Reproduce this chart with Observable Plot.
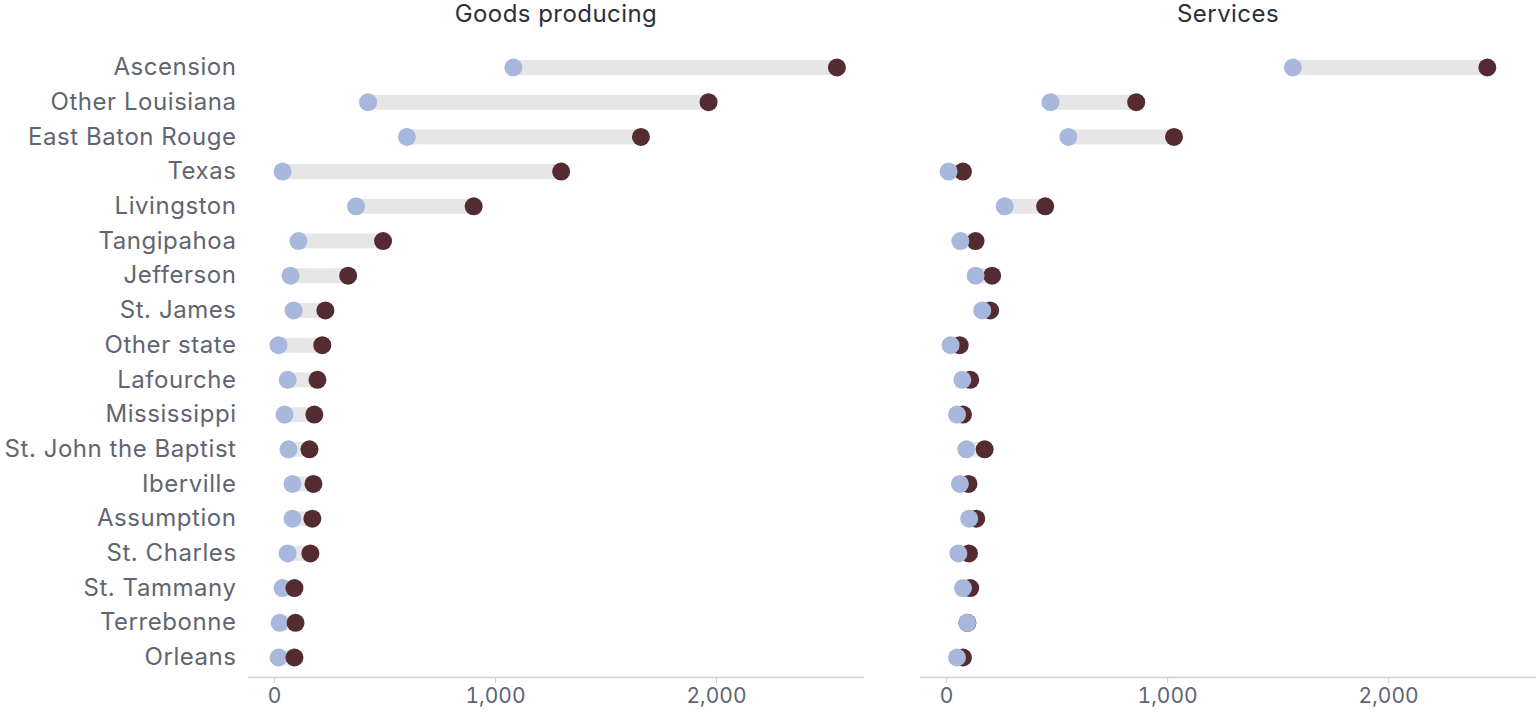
<!DOCTYPE html>
<html>
<head>
<meta charset="utf-8">
<script src="https://cdn.jsdelivr.net/npm/d3@7"></script>
<script src="https://cdn.jsdelivr.net/npm/@observablehq/plot@0.6"></script>
<style>
  html, body { margin: 0; padding: 0; background: #fff; }
  #chart { width: 1538px; height: 715px; }
  #chart g[aria-label="y-axis tick label"] text { letter-spacing: 0.55px; }
  #chart g[aria-label="fx-axis tick label"] text { letter-spacing: 0.45px; }
</style>
</head>
<body>
<div id="chart"></div>
<script>
const regions = ["Ascension", "Other Louisiana", "East Baton Rouge", "Texas", "Livingston", "Tangipahoa", "Jefferson", "St. James", "Other state", "Lafourche", "Mississippi", "St. John the Baptist", "Iberville", "Assumption", "St. Charles", "St. Tammany", "Terrebonne", "Orleans"];
const sectors = ["Goods producing", "Services"];
const goodsStart = [1081, 423, 599, 36, 369, 108, 72, 86, 18, 59, 45, 63, 81, 81, 59, 36, 23, 18];
const goodsEnd   = [2545, 1964, 1658, 1297, 901, 491, 333, 230, 216, 194, 180, 158, 176, 171, 162, 90, 95, 90];
const servStart  = [1567, 470, 551, 9, 263, 62, 131, 161, 18, 71, 47, 89, 60, 102, 53, 74, 93, 47];
const servEnd    = [2447, 858, 1029, 74, 446, 131, 206, 197, 59, 107, 74, 172, 99, 134, 101, 107, 94, 74];
const xTicks = [0, 1000, 2000];

const rows = [];
regions.forEach((r, i) => {
  rows.push({region: r, sector: sectors[0], start: goodsStart[i], end: goodsEnd[i]});
  rows.push({region: r, sector: sectors[1], start: servStart[i], end: servEnd[i]});
});
// dots, in drawing order
const dots = [];
rows.filter(d => d.sector === sectors[0]).forEach(d => dots.push({region: d.region, sector: d.sector, value: d.start, kind: "start"}));
rows.filter(d => d.sector === sectors[0]).forEach(d => dots.push({region: d.region, sector: d.sector, value: d.end, kind: "end"}));
rows.filter(d => d.sector === sectors[1]).forEach(d => dots.push({region: d.region, sector: d.sector, value: d.end, kind: "end"}));
rows.filter(d => d.sector === sectors[1]).forEach(d => dots.push({region: d.region, sector: d.sector, value: d.start, kind: "start"}));

const font = "Inter, Roboto, 'Liberation Sans', sans-serif";

const chart = Plot.plot({
  width: 1538,
  height: 715,
  marginLeft: 248,
  marginRight: 3,
  marginTop: 47,
  marginBottom: 38,
  style: {fontFamily: font, fontSize: "24px", color: "#5f6571", background: "#fff"},
  fx: {domain: sectors, padding: 0.085, label: null, round: false},
  x: {domain: [-118, 2665], label: null},
  y: {domain: regions, type: "point", padding: 0.576, round: false, label: null},
  color: {domain: ["start", "end"], range: ["#a7b8dc", "#532b30"]},
  marks: [
    Plot.frame({anchor: "bottom", stroke: "#cfcfd2", strokeWidth: 1.5, strokeOpacity: 1}),
    Plot.axisFx({anchor: "top", tickSize: 0, tickPadding: 26, fontSize: 24, fill: "#2a2f3a", label: null}),
    Plot.axisX({ticks: xTicks, tickFormat: d3.format(","), tickSize: 6, stroke: "#cfcfd2", tickPadding: 5, fontSize: 21, fill: "#5f6571", label: null}),
    Plot.axisY({tickSize: 0, tickPadding: 12, fontSize: 24, fill: "#5f6571", label: null}),
    Plot.ruleY(rows, {fx: "sector", y: "region", x1: "start", x2: "end", stroke: "#e6e6e6", strokeWidth: 15}),
    Plot.dot(dots, {fx: "sector", y: "region", x: "value", fill: "kind", r: 9, stroke: null})
  ]
});
document.getElementById("chart").appendChild(chart);
</script>
</body>
</html>
